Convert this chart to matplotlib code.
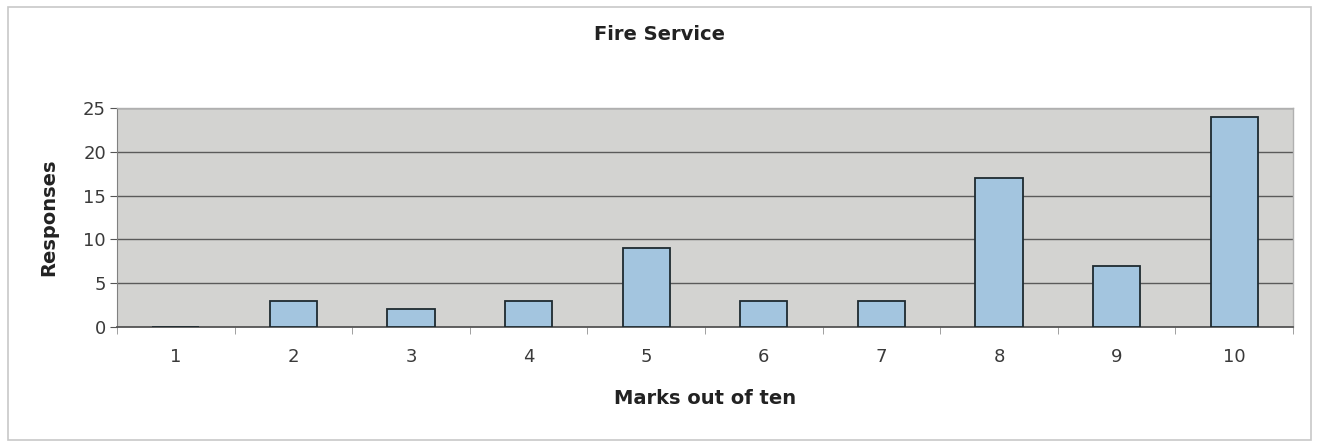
import matplotlib
matplotlib.use("Agg")
import matplotlib.pyplot as plt
from matplotlib.patches import Rectangle
import numpy as np

categories = ["1", "2", "3", "4", "5", "6", "7", "8", "9", "10"]
responses = [0, 3, 2, 3, 9, 3, 3, 17, 7, 24]
y_ticks = [0, 5, 10, 15, 20, 25]

plt.rcParams['font.family'] = ['DejaVu Sans']

W, H = 1319, 444
fig = plt.figure(figsize=(W / 100, H / 100), dpi=100)
fig.patch.set_facecolor("white")

# outer chart frame
fig.add_artist(Rectangle((8 / W, 1 - 440 / H), (1311 - 8) / W, (440 - 7) / H,
                         transform=fig.transFigure, fill=False,
                         edgecolor="#c8c8c8", linewidth=1.2))

left, right, top, bottom = 117, 1293, 108, 327
ax = fig.add_axes([left / W, 1 - bottom / H, (right - left) / W, (bottom - top) / H])
ax.set_facecolor("#d3d3d1")

x = np.arange(len(categories))
ax.bar(x, responses, width=0.4, color="#a3c5df", edgecolor="#1e2a30",
       linewidth=1.3, zorder=3)

ax.set_xlim(-0.5, len(categories) - 0.5)
ax.set_ylim(0, 25)
ax.set_yticks(y_ticks)
ax.set_yticklabels([str(v) for v in y_ticks], fontsize=13, color="#3a3a3a")
ax.set_xticks(x)
ax.set_xticklabels(categories, fontsize=13, color="#3a3a3a")
ax.tick_params(axis="x", length=0, pad=15)
ax.set_xticks(np.arange(-0.5, len(categories), 1), minor=True)
ax.tick_params(axis="x", which="minor", length=5, color="#909090")
ax.tick_params(axis="y", length=5, color="#555555", pad=3)

ax.yaxis.grid(True, color="#5a5a5a", linewidth=1.0, zorder=1)
ax.set_axisbelow(True)

for s in ["top", "right"]:
    ax.spines[s].set_color("#b0b0b0")
    ax.spines[s].set_linewidth(1.0)
ax.spines["left"].set_color("#808080")
ax.spines["bottom"].set_color("#555555")
ax.spines["bottom"].set_linewidth(1.3)

ax.set_ylabel("Responses", fontsize=14, fontweight="bold", color="#222222")
ax.yaxis.set_label_coords((58 - left) / (right - left), 0.5)
ax.set_xlabel("Marks out of ten", fontsize=14, fontweight="bold", color="#222222")
ax.xaxis.set_label_coords(0.5, (bottom - 389) / (bottom - top))

fig.text(0.5, 1 - 35 / H, "Fire Service", ha="center", va="center",
         fontsize=14, fontweight="bold", color="#222222")

fig.savefig("out.png", dpi=100)
